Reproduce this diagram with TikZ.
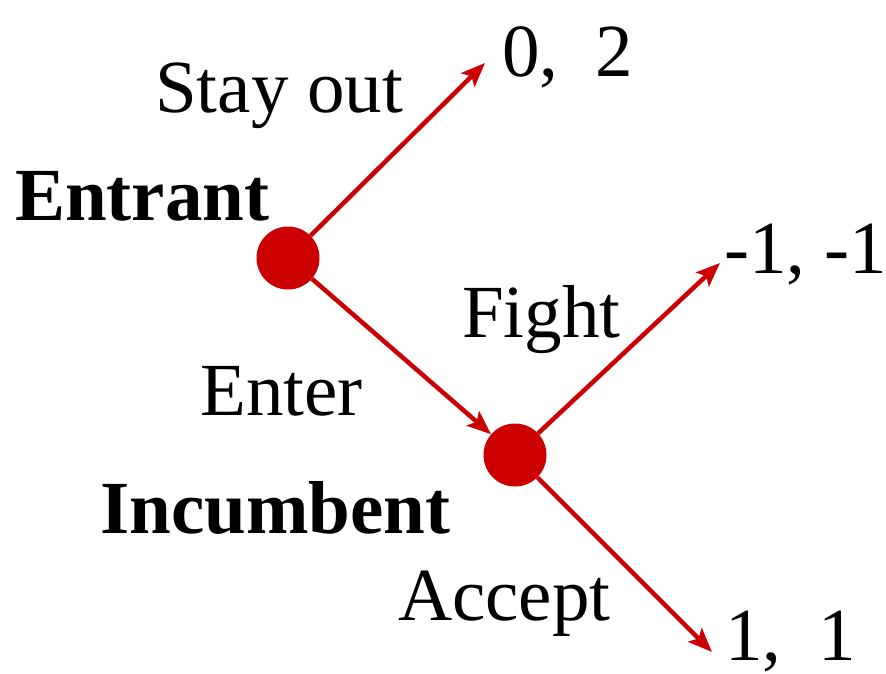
\documentclass[tikz,border=0pt]{standalone}
\usepackage{fontspec}
\setmainfont{Liberation Serif}
\usetikzlibrary{arrows.meta}
\definecolor{treered}{HTML}{CC0000}

\begin{document}
\begin{tikzpicture}[x=1pt, y=-1pt,
    decision/.style={circle, fill=treered, minimum size=63pt, inner sep=0pt},
    move/.style={draw=treered, line width=4.5pt, -{Stealth[length=24pt, width=19pt, inset=5pt]}},
    lbl/.style={anchor=base west, inner sep=0pt, font=\fontsize{75}{80}\selectfont},
    player/.style={lbl, font=\fontsize{75}{80}\selectfont\bfseries}]
  \useasboundingbox (0, 0) rectangle (886, 674);
  % decision nodes
  \node [decision] (entrant) at (288, 258) {};
  \node [decision] (incumbent) at (515, 455) {};
  % ends of the moves
  \coordinate (stayend) at (485, 63);
  \coordinate (fightend) at (720, 263);
  \coordinate (acceptend) at (712, 652);
  \draw [move] (entrant) -- (stayend);
  \draw [move] (entrant) -- (incumbent);
  \draw [move] (incumbent) -- (fightend);
  \draw [move] (incumbent) -- (acceptend);
  % players
  \node [player] (entrantname) at (15, 220) {Entrant};
  \node [player] (incumbentname) at (100, 533) {Incumbent};
  % moves
  \node [lbl] (stayout) at (155, 113) {Stay out};
  \node [lbl] (enter) at (200, 415) {Enter};
  \node [lbl] (fight) at (462, 337) {Fight};
  \node [lbl] (accept) at (398, 620) {Accept};
  % payoffs
  \node [lbl] (payout) at (502, 77) {0,\ \ 2};
  \node [lbl] (payfight) at (724, 273) {-1, -1};
  \node [lbl] (payaccept) at (725, 660) {1,\ \ 1};
\end{tikzpicture}
\end{document}
